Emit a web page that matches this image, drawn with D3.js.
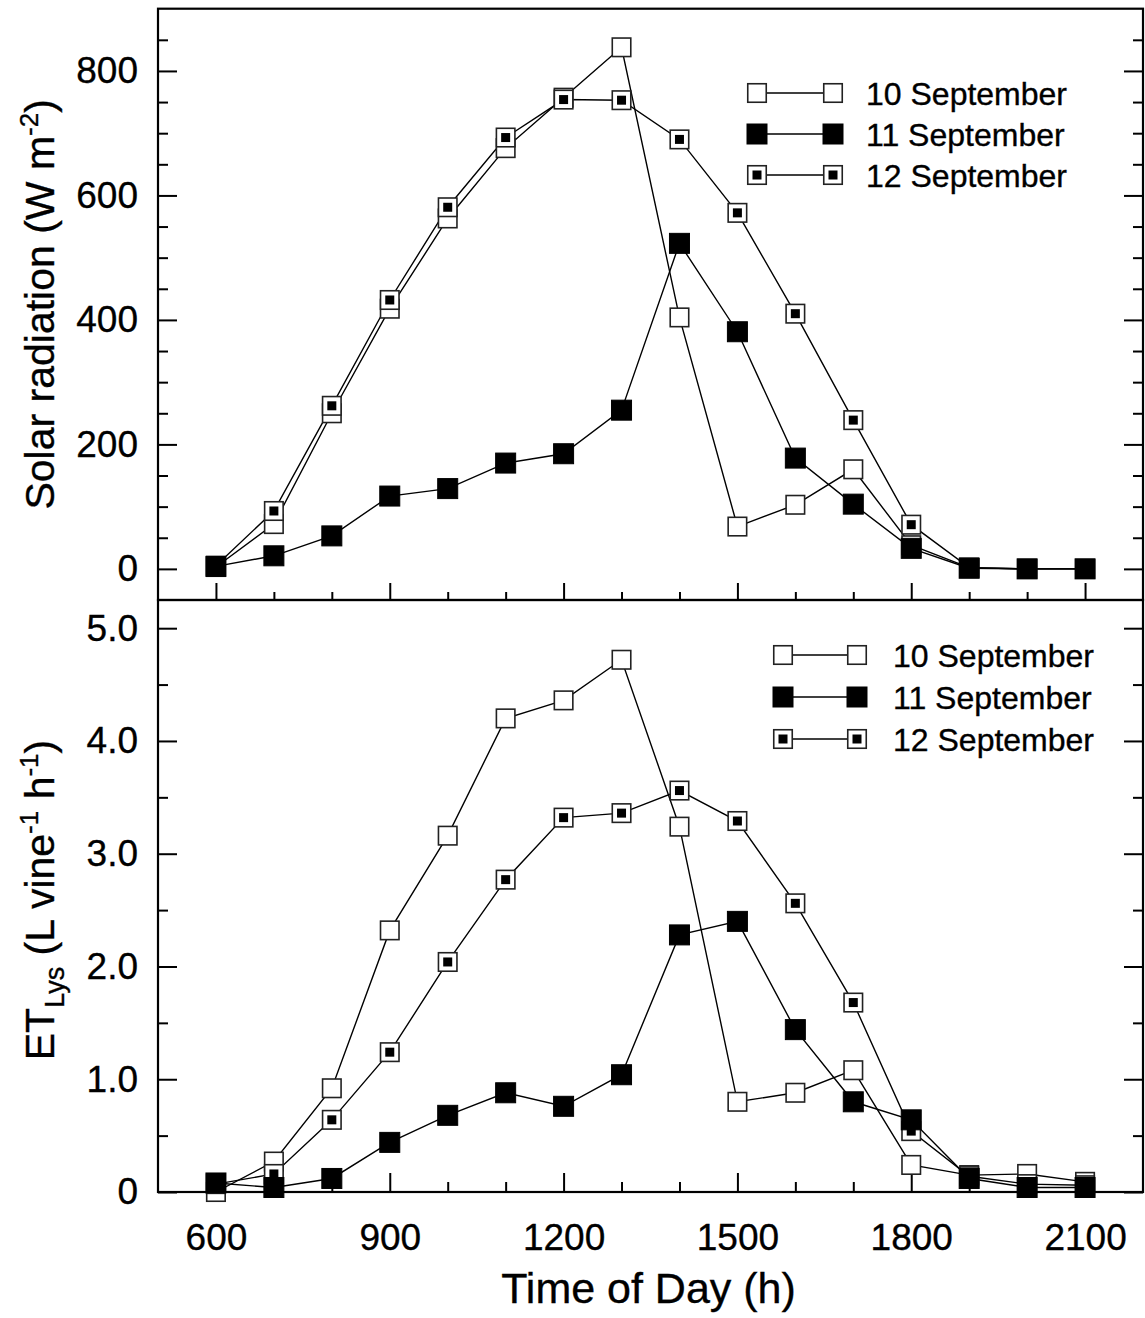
<!DOCTYPE html>
<html>
<head>
<meta charset="utf-8">
<script src="https://cdn.jsdelivr.net/npm/d3@7"></script>
<style>
  html, body { margin: 0; padding: 0; background: #fff; }
  svg text { font-family: "Liberation Sans", Arial, Helvetica, sans-serif; fill: #000; stroke: #000; stroke-width: 0.35px; }
</style>
</head>
<body>
<svg id="chart" width="1145" height="1318"></svg>
<script>
// ---------------- DATA ----------------
const hours = [600, 700, 800, 900, 1000, 1100, 1200, 1300, 1400, 1500, 1600, 1700, 1800, 1900, 2000, 2100];
const seriesNames = ["10 September", "11 September", "12 September"];

// Solar radiation (W m-2)
const solarSep10 = [3, 72, 250, 418, 563, 676, 757, 838, 404, 68, 103, 160, 38, 2, 0, 0];
const solarSep11 = [4, 21, 53, 117, 129, 170, 185, 255, 523, 381, 178, 104, 33, 1, 0, 0];
const solarSep12 = [5, 93, 262, 432, 581, 693, 754, 753, 690, 572, 410, 239, 71, 2, 0, 0];

// ET Lys (L vine-1 h-1)
const etSep10 = [0.00, 0.27, 0.92, 2.32, 3.16, 4.20, 4.36, 4.72, 3.24, 0.80, 0.88, 1.08, 0.24, 0.15, 0.16, 0.09];
const etSep11 = [0.08, 0.04, 0.12, 0.44, 0.68, 0.88, 0.76, 1.04, 2.28, 2.40, 1.44, 0.80, 0.64, 0.12, 0.04, 0.04];
const etSep12 = [0.07, 0.16, 0.64, 1.24, 2.04, 2.77, 3.32, 3.36, 3.56, 3.29, 2.56, 1.68, 0.54, 0.14, 0.07, 0.06];

const xTickLabels = [600, 900, 1200, 1500, 1800, 2100];
const solarTickLabels = [0, 200, 400, 600, 800];
const etTickLabels = [0, 1, 2, 3, 4, 5];

// ---------------- LAYOUT ----------------
const svg = d3.select("#chart");
const L = 158, R = 1143;
const topY0 = 8.7, topY1 = 600, botY0 = 600, botY1 = 1192;

const x = d3.scaleLinear().domain([500, 2200]).range([L, R]);
const yTop = d3.scaleLinear().domain([-50, 900]).range([topY1, topY0]);
const yBot = d3.scaleLinear().domain([0, 5.25]).range([botY1, botY0]);

const FONT_TICK = 37;

svg.append("rect").attr("width", 1145).attr("height", 1318).attr("fill", "#fff");

function drawAxes(g, y, y0, y1, majorY, minorY, fmtY, xMajorLen, xMinorLen) {
  const majorX = d3.range(600, 2101, 300);
  const minorX = d3.range(600, 2101, 100).filter(v => !majorX.includes(v));
  g.append("g").attr("transform", `translate(0,${y1})`)
    .call(d3.axisBottom(x).tickValues(majorX).tickSize(-xMajorLen).tickFormat(""))
    .call(a => a.select(".domain").remove())
    .call(a => a.selectAll("line").attr("stroke", "#000").attr("stroke-width", 2));
  g.append("g").attr("transform", `translate(0,${y1})`)
    .call(d3.axisBottom(x).tickValues(minorX).tickSize(-xMinorLen).tickFormat(""))
    .call(a => a.select(".domain").remove())
    .call(a => a.selectAll("line").attr("stroke", "#000").attr("stroke-width", 2));
  [[d3.axisLeft, L], [d3.axisRight, R]].forEach(([fn, xp]) => {
    g.append("g").attr("transform", `translate(${xp},0)`)
      .call(fn(y).tickValues(majorY).tickSize(-19).tickFormat(""))
      .call(a => a.select(".domain").remove())
      .call(a => a.selectAll("line").attr("stroke", "#000").attr("stroke-width", 2));
    g.append("g").attr("transform", `translate(${xp},0)`)
      .call(fn(y).tickValues(minorY).tickSize(-10).tickFormat(""))
      .call(a => a.select(".domain").remove())
      .call(a => a.selectAll("line").attr("stroke", "#000").attr("stroke-width", 2));
  });
  g.append("g").attr("transform", `translate(${L},0)`)
    .call(d3.axisLeft(y).tickValues(majorY).tickSize(0).tickPadding(20).tickFormat(fmtY))
    .call(a => a.select(".domain").remove())
    .call(a => a.selectAll("text")
      .style("font-family", '"Liberation Sans", Arial, sans-serif')
      .attr("font-size", FONT_TICK).attr("fill", "#000"));
  g.append("rect").attr("x", L).attr("y", y0).attr("width", R - L).attr("height", y1 - y0)
    .attr("fill", "none").attr("stroke", "#000").attr("stroke-width", 2.2);
}

const gTop = svg.append("g");
const gBot = svg.append("g");

drawAxes(gTop, yTop, topY0, topY1,
  solarTickLabels,
  d3.range(50, 900, 50).filter(v => !solarTickLabels.includes(v)),
  d => d3.format("d")(d), 17, 8);

drawAxes(gBot, yBot, botY0, botY1,
  etTickLabels,
  d3.range(0.5, 5.25, 1),
  d => d === 0 ? "0" : d3.format(".1f")(d), 19, 10);

gBot.append("g").attr("transform", `translate(0,${botY1})`)
  .call(d3.axisBottom(x).tickValues(xTickLabels).tickSize(0).tickPadding(32).tickFormat(d3.format("d")))
  .call(a => a.select(".domain").remove())
  .call(a => a.selectAll("text")
    .style("font-family", '"Liberation Sans", Arial, sans-serif')
    .attr("font-size", FONT_TICK).attr("fill", "#000"));

// ---------------- MARKS ----------------
const SZ = 20;
function drawSeries(g, y, values) {
  const pts = hours.map((h, i) => [x(h), y(values[i])]);
  g.append("path").attr("d", d3.line()(pts))
    .attr("fill", "none").attr("stroke", "#000").attr("stroke-width", 1.4);
  return pts;
}
function drawMarker(g, cx, cy, kind) {
  if (kind === 1) {
    g.append("rect").attr("x", cx - SZ / 2).attr("y", cy - SZ / 2).attr("width", SZ).attr("height", SZ)
      .attr("fill", "#000").attr("stroke", "#000").attr("stroke-width", 1);
  } else {
    g.append("rect").attr("x", cx - SZ / 2 + 0.75).attr("y", cy - SZ / 2 + 0.75)
      .attr("width", SZ - 1.5).attr("height", SZ - 1.5)
      .attr("fill", "#fff").attr("stroke", "#222").attr("stroke-width", 1.6);
    if (kind === 2) {
      g.append("rect").attr("x", cx - 4.5).attr("y", cy - 4.5).attr("width", 9).attr("height", 9)
        .attr("fill", "#000");
    }
  }
}

function drawPanel(g, y, s10, s11, s12) {
  const lines = g.append("g");
  const marks = g.append("g");
  const p10 = drawSeries(lines, y, s10);
  const p12 = drawSeries(lines, y, s12);
  const p11 = drawSeries(lines, y, s11);
  p10.forEach(p => drawMarker(marks, p[0], p[1], 0));
  p12.forEach(p => drawMarker(marks, p[0], p[1], 2));
  p11.forEach(p => drawMarker(marks, p[0], p[1], 1));
}

drawPanel(gTop, yTop, solarSep10, solarSep11, solarSep12);
drawPanel(gBot, yBot, etSep10, etSep11, etSep12);

// ---------------- LEGENDS ----------------
function legend(g, lx1, lx2, tx, rows) {
  const kinds = [0, 1, 2];
  rows.forEach((ry, i) => {
    g.append("line").attr("x1", lx1).attr("x2", lx2).attr("y1", ry).attr("y2", ry)
      .attr("stroke", "#000").attr("stroke-width", 1.4);
    drawMarker(g, lx1, ry, kinds[i]);
    drawMarker(g, lx2, ry, kinds[i]);
    g.append("text").attr("x", tx).attr("y", ry).attr("dy", "0.36em")
      .attr("font-size", 32).text(seriesNames[i]);
  });
}
legend(svg.append("g"), 757, 833, 866, [93, 134, 175]);
legend(svg.append("g"), 783, 857, 893, [655, 697, 739]);

// ---------------- AXIS TITLES ----------------
const tTop = svg.append("text")
  .attr("transform", `translate(54,${(topY0 + topY1) / 2}) rotate(-90)`)
  .attr("text-anchor", "middle").attr("font-size", 41);
tTop.append("tspan").text("Solar radiation (W m");
tTop.append("tspan").attr("font-size", 26).attr("dy", -16).text("-2");
tTop.append("tspan").attr("dy", 16).text(")");

const tBot = svg.append("text")
  .attr("transform", `translate(54,${(botY0 + botY1) / 2 + 4}) rotate(-90)`)
  .attr("text-anchor", "middle").attr("font-size", 41);
tBot.append("tspan").text("ET");
tBot.append("tspan").attr("font-size", 27).attr("dy", 10).text("Lys");
tBot.append("tspan").attr("dy", -10).text(" (L vine");
tBot.append("tspan").attr("font-size", 26).attr("dy", -16).text("-1");
tBot.append("tspan").attr("dy", 16).text(" h");
tBot.append("tspan").attr("font-size", 26).attr("dy", -16).text("-1");
tBot.append("tspan").attr("dy", 16).text(")");

svg.append("text").attr("x", (L + R) / 2 - 2).attr("y", 1303)
  .attr("text-anchor", "middle").attr("font-size", 43).text("Time of Day (h)");
</script>
</body>
</html>
